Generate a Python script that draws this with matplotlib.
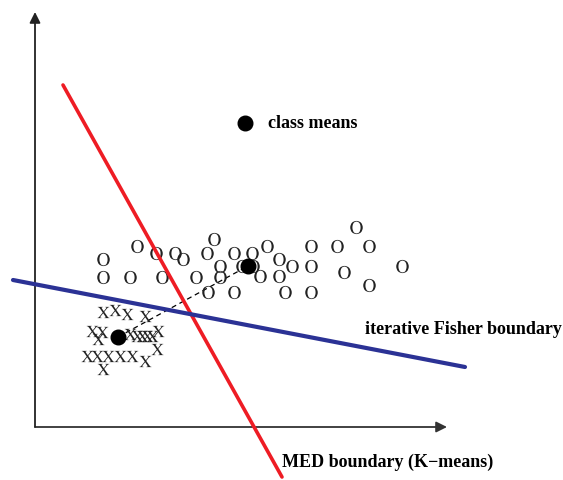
import matplotlib
matplotlib.use("Agg")
import matplotlib.pyplot as plt
import numpy as np

plt.rcParams['mathtext.fontset'] = 'stix'

# pixel-ish coordinates, origin at the axis corner, y up
ORIGIN = (35, 428)

o_px = [(103, 260), (103, 278), (137, 247), (130, 278), (156, 254), (162, 278),
        (175, 254), (183, 260), (196, 278), (207, 254), (214, 240), (220, 267),
        (220, 278), (208, 293), (234, 254), (234, 293), (252, 254), (242, 267),
        (267, 247), (253, 267), (260, 277), (279, 260), (279, 277), (285, 293),
        (292, 267), (311, 247), (311, 267), (311, 293), (337, 247), (344, 273),
        (356, 228), (369, 247), (369, 286), (402, 267)]
x_px = [(103, 313), (115, 311), (127, 315), (145, 317),
        (92, 332), (102, 333), (98, 340), (130, 335), (137, 337), (142, 337),
        (147, 337), (152, 337), (158, 332),
        (87, 357), (97, 357), (108, 357), (120, 357), (132, 357), (145, 362),
        (157, 350), (103, 370)]
means_px = [(118, 338), (248, 267)]
legend_dot_px = (245, 124)
red_px = [(63, 86), (282, 478)]
blue_px = [(13, 281), (465, 368)]


def to_xy(pts):
    a = np.array(pts, dtype=float)
    return a[:, 0] - ORIGIN[0], ORIGIN[1] - a[:, 1]


fig = plt.figure(figsize=(5.63, 4.81), dpi=100)
ax = fig.add_axes([0, 0, 1, 1])
ax.set_xlim(-ORIGIN[0], 563 - ORIGIN[0])
ax.set_ylim(ORIGIN[1] - 481, ORIGIN[1])
ax.axis('off')

# axes arrows
ax.annotate('', xy=(412, 0), xytext=(0, 0),
            arrowprops=dict(arrowstyle='-|>', color='#333333', lw=1.3,
                            mutation_scale=16, shrinkA=0, shrinkB=0))
ax.annotate('', xy=(0, 415), xytext=(0, 0),
            arrowprops=dict(arrowstyle='-|>', color='#222222', lw=1.3,
                            mutation_scale=16, shrinkA=0, shrinkB=0))

serif = ['Liberation Serif', 'DejaVu Serif']

ox, oy = to_xy(o_px)
ax.plot(ox, oy, ls='none', marker=r'$\mathrm{O}$', ms=9.5, color='#222222',
        mew=0, zorder=3)
xx, xy = to_xy(x_px)
ax.plot(xx, xy, ls='none', marker=r'$\mathrm{X}$', ms=8.5, color='#222222',
        mew=0, zorder=3)

mx, my = to_xy(means_px)
ax.plot(mx, my, ls=(0, (4, 3)), color='black', lw=0.9, zorder=2)
ax.plot(mx, my, 'o', color='black', ms=10.5, zorder=5)

rx, ry = to_xy(red_px)
ax.plot(rx, ry, color='#ee1c24', lw=2.6, solid_capstyle='round', zorder=4)
bx, by = to_xy(blue_px)
ax.plot(bx, by, color='#2b3295', lw=3.0, solid_capstyle='round', zorder=4)

lx, ly = to_xy([legend_dot_px])
ax.plot(lx, ly, 'o', color='black', ms=10.5)
ax.text(lx[0] + 23, ly[0], 'class means', family=serif, fontweight='bold',
        fontsize=13, ha='left', va='center')

tx, ty = to_xy([(365, 330)])
ax.text(tx[0], ty[0], 'iterative Fisher boundary', family=serif,
        fontweight='bold', fontsize=13, ha='left', va='center')
tx, ty = to_xy([(282, 462)])
ax.text(tx[0], ty[0], 'MED boundary (K\u2212means)', family=serif,
        fontweight='bold', fontsize=13, ha='left', va='center')

fig.savefig('out.png', dpi=100)
